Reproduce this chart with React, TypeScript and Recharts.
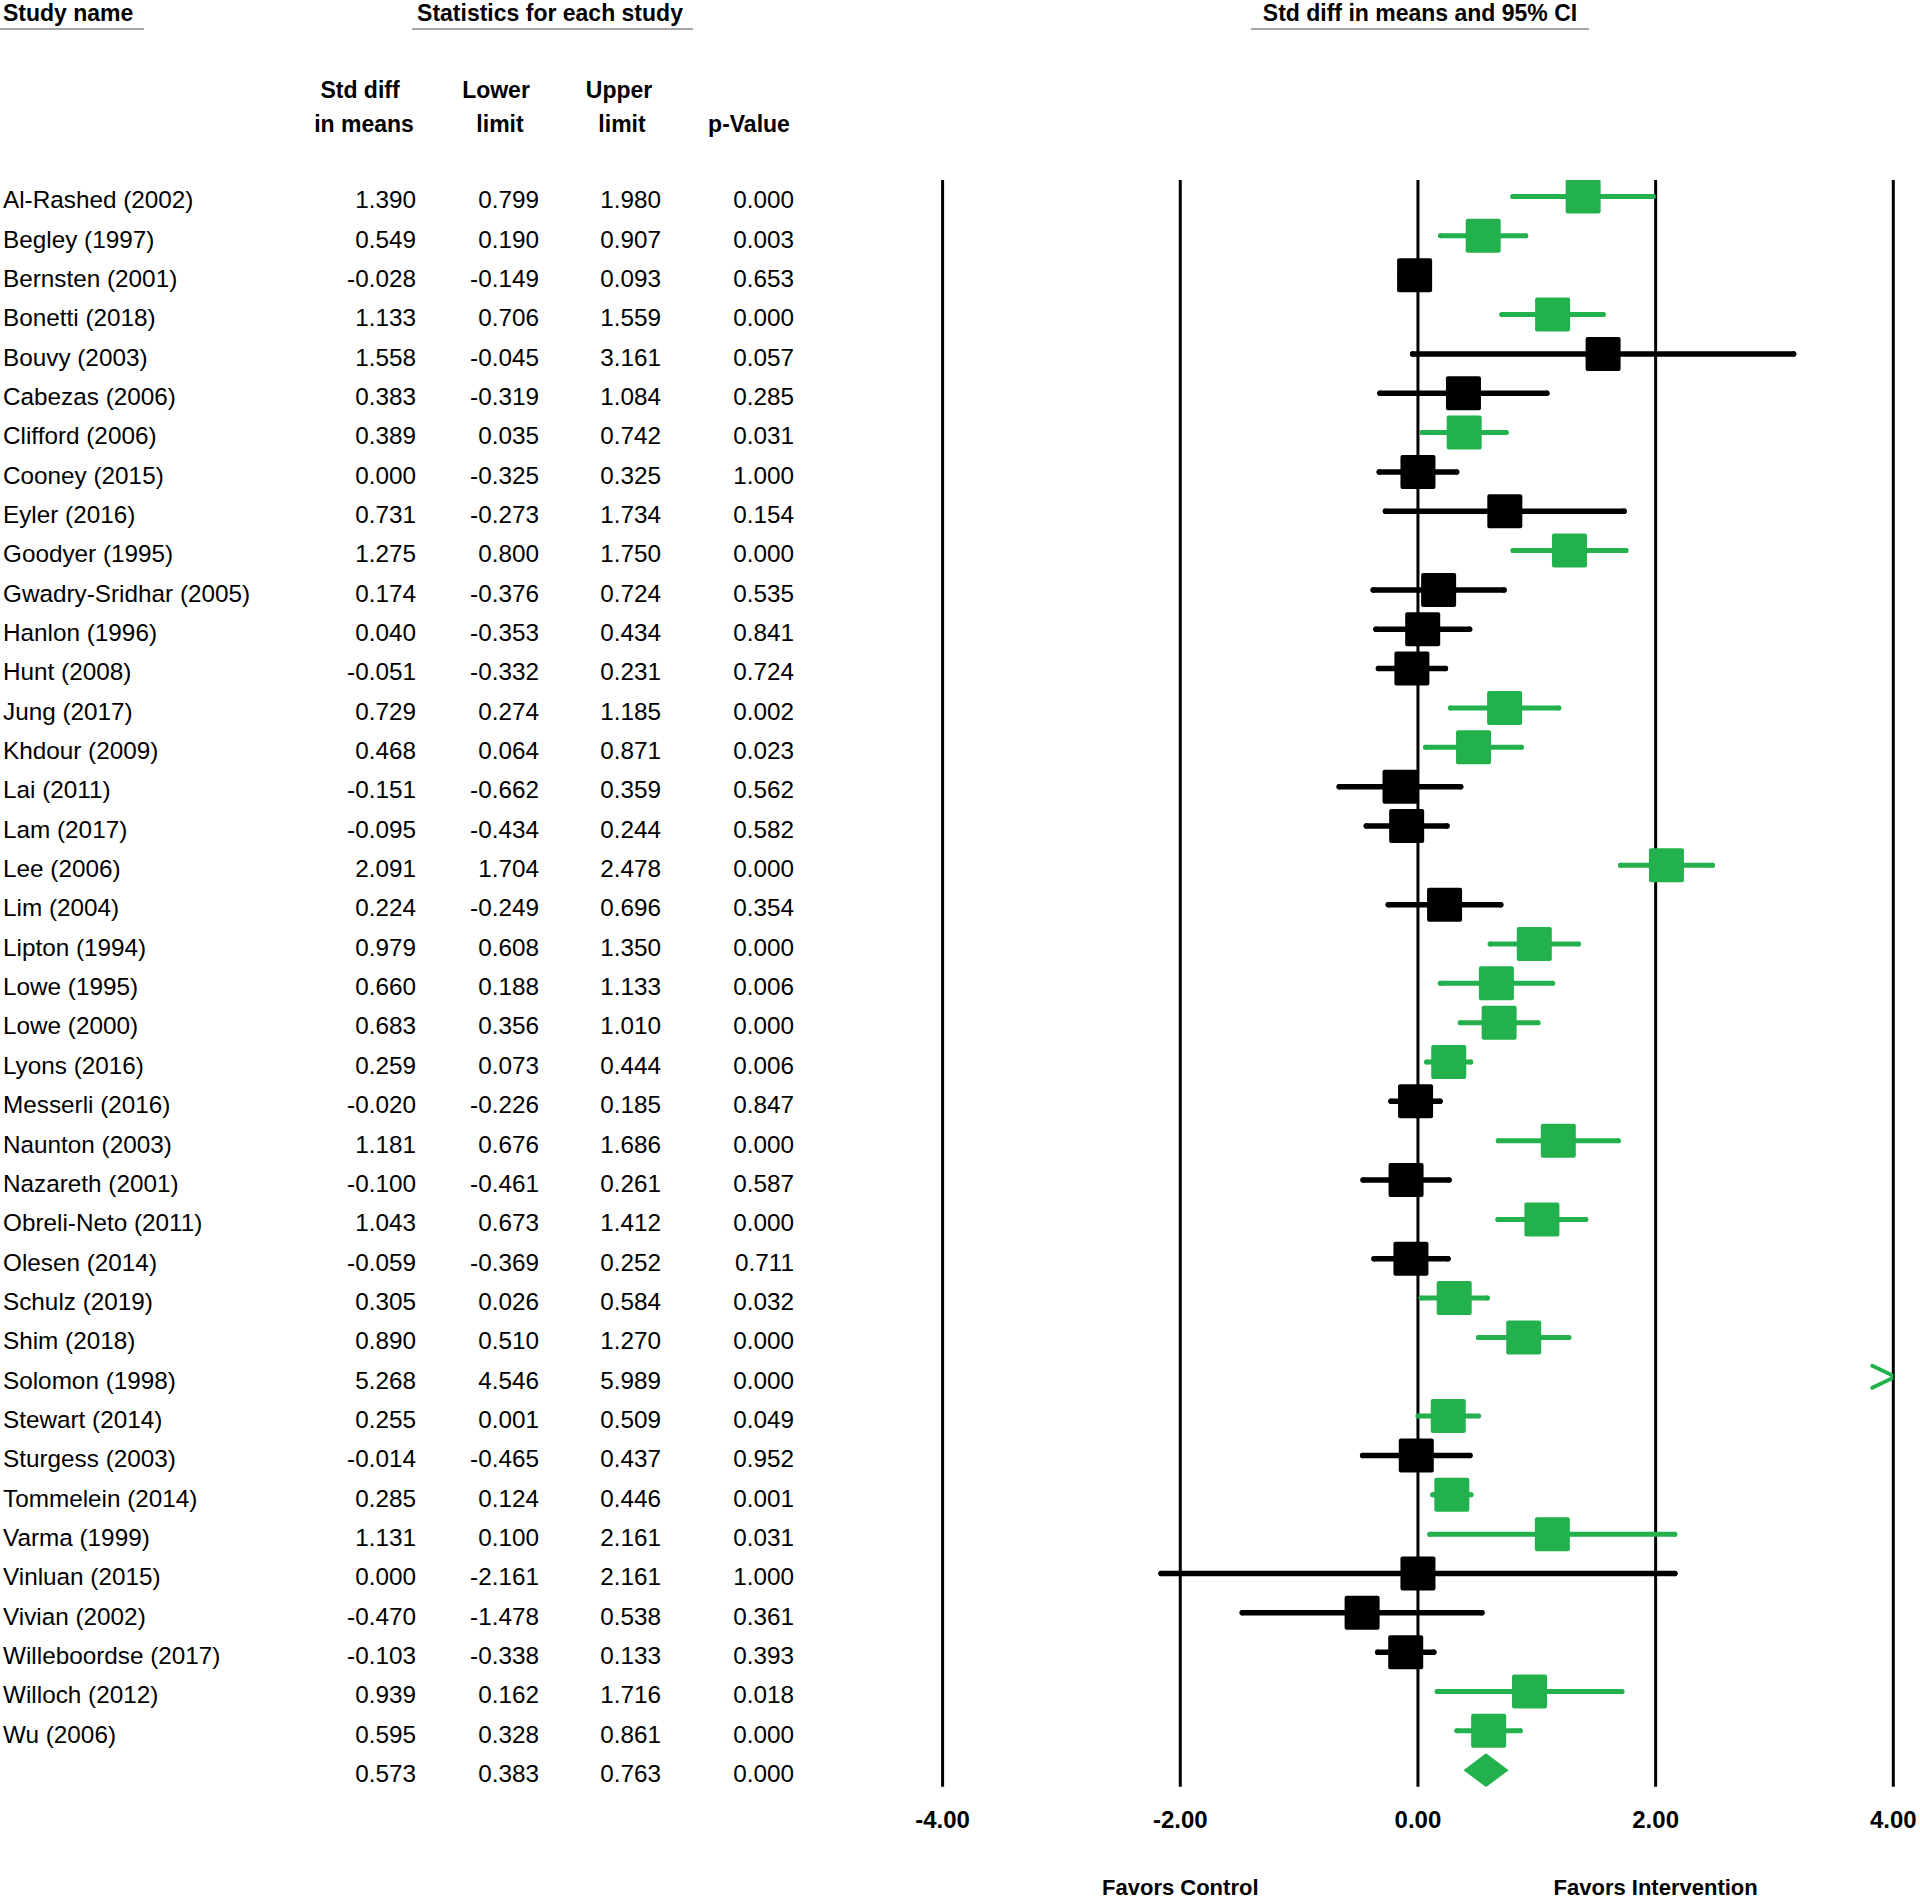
import { CartesianGrid, ErrorBar, Scatter, ScatterChart, XAxis, YAxis } from 'recharts';

// study table
const studyNames = [
  'Al-Rashed (2002)', 'Begley (1997)', 'Bernsten (2001)', 'Bonetti (2018)', 'Bouvy (2003)',
  'Cabezas (2006)', 'Clifford (2006)', 'Cooney (2015)', 'Eyler (2016)', 'Goodyer (1995)',
  'Gwadry-Sridhar (2005)', 'Hanlon (1996)', 'Hunt (2008)', 'Jung (2017)', 'Khdour (2009)',
  'Lai (2011)', 'Lam (2017)', 'Lee (2006)', 'Lim (2004)', 'Lipton (1994)',
  'Lowe (1995)', 'Lowe (2000)', 'Lyons (2016)', 'Messerli (2016)', 'Naunton (2003)',
  'Nazareth (2001)', 'Obreli-Neto (2011)', 'Olesen (2014)', 'Schulz (2019)', 'Shim (2018)',
  'Solomon (1998)', 'Stewart (2014)', 'Sturgess (2003)', 'Tommelein (2014)', 'Varma (1999)',
  'Vinluan (2015)', 'Vivian (2002)', 'Willeboordse (2017)', 'Willoch (2012)', 'Wu (2006)',
];
const stdDiff = [
  1.39, 0.549, -0.028, 1.133, 1.558, 0.383, 0.389, 0.0, 0.731, 1.275,
  0.174, 0.04, -0.051, 0.729, 0.468, -0.151, -0.095, 2.091, 0.224, 0.979,
  0.66, 0.683, 0.259, -0.02, 1.181, -0.1, 1.043, -0.059, 0.305, 0.89,
  5.268, 0.255, -0.014, 0.285, 1.131, 0.0, -0.47, -0.103, 0.939, 0.595,
];
const lowerLimit = [
  0.799, 0.19, -0.149, 0.706, -0.045, -0.319, 0.035, -0.325, -0.273, 0.8,
  -0.376, -0.353, -0.332, 0.274, 0.064, -0.662, -0.434, 1.704, -0.249, 0.608,
  0.188, 0.356, 0.073, -0.226, 0.676, -0.461, 0.673, -0.369, 0.026, 0.51,
  4.546, 0.001, -0.465, 0.124, 0.1, -2.161, -1.478, -0.338, 0.162, 0.328,
];
const upperLimit = [
  1.98, 0.907, 0.093, 1.559, 3.161, 1.084, 0.742, 0.325, 1.734, 1.75,
  0.724, 0.434, 0.231, 1.185, 0.871, 0.359, 0.244, 2.478, 0.696, 1.35,
  1.133, 1.01, 0.444, 0.185, 1.686, 0.261, 1.412, 0.252, 0.584, 1.27,
  5.989, 0.509, 0.437, 0.446, 2.161, 2.161, 0.538, 0.133, 1.716, 0.861,
];
const pValues = [
  0.0, 0.003, 0.653, 0.0, 0.057, 0.285, 0.031, 1.0, 0.154, 0.0,
  0.535, 0.841, 0.724, 0.002, 0.023, 0.562, 0.582, 0.0, 0.354, 0.0,
  0.006, 0.0, 0.006, 0.847, 0.0, 0.587, 0.0, 0.711, 0.032, 0.0,
  0.0, 0.049, 0.952, 0.001, 0.031, 1.0, 0.361, 0.393, 0.018, 0.0,
];
// pooled estimate: std diff, lower, upper, p
const pooled = [0.573, 0.383, 0.763, 0.0];

const xTicks = [-4, -2, 0, 2, 4];
const favorLabels: Record<string, string> = { '-2': 'Favors Control', '2': 'Favors Intervention' };

const GREEN = '#22b14c';
const FONT = '"Liberation Sans", Arial, sans-serif';
const X_MIN = -4;
const X_MAX = 4;
const DIAMOND_HALF = 0.43; // in rows
const COL_RIGHT = [416, 539, 661, 794];

const rows = studyNames.map((name, i) => ({
  row: i,
  name,
  x: stdDiff[i],
  p: pValues[i],
  err: [stdDiff[i] - lowerLimit[i], upperLimit[i] - stdDiff[i]],
}));
const inView = rows.filter((r) => r.x >= X_MIN && r.x <= X_MAX);
const sigRows = inView.filter((r) => r.p < 0.05);
const nsRows = inView.filter((r) => r.p >= 0.05);
const offRows = rows.filter((r) => r.x > X_MAX).map((r) => ({ ...r, x: X_MAX }));

const summaryRow = studyNames.length;
const diamond = [
  { x: pooled[1], row: summaryRow },
  { x: pooled[0], row: summaryRow - DIAMOND_HALF },
  { x: pooled[2], row: summaryRow },
  { x: pooled[0], row: summaryRow + DIAMOND_HALF },
];
const rowTicks = [...studyNames.map((_, i) => i), summaryRow];

const Square = (props: any) => (
  <rect x={props.cx - 17.5} y={props.cy - 17} width={35} height={34} rx={2} fill={props.fill} />
);

const Arrow = (props: any) => (
  <polyline
    points={`${props.cx - 21},${props.cy - 11} ${props.cx + 2},${props.cy} ${props.cx - 21},${props.cy + 11}`}
    fill="none"
    stroke={GREEN}
    strokeWidth={4}
    strokeLinecap="round"
    strokeLinejoin="round"
  />
);

const DiamondShape = (props: any) => (
  <polygon points={(props.points || []).map((p: any) => `${p.x},${p.y}`).join(' ')} fill={GREEN} />
);

const RowTick = (props: any) => {
  const i = props.payload.value;
  const stats = i < studyNames.length ? [stdDiff[i], lowerLimit[i], upperLimit[i], pValues[i]] : pooled;
  const by = props.y + 11.8;
  return (
    <g fontFamily={FONT} fontSize={24.3} fill="#000">
      {i < studyNames.length && (
        <text x={3} y={by}>
          {studyNames[i]}
        </text>
      )}
      {stats.map((v, k) => (
        <text key={k} x={COL_RIGHT[k]} y={by} textAnchor="end">
          {v.toFixed(3)}
        </text>
      ))}
    </g>
  );
};

const XTick = (props: any) => {
  const v = props.payload.value;
  const label = favorLabels[String(v)];
  return (
    <g fontFamily={FONT} fontWeight="bold" fill="#000">
      <text x={props.x} y={props.y + 41} textAnchor="middle" fontSize={24}>
        {v.toFixed(2)}
      </text>
      {label && (
        <text x={props.x} y={props.y + 108} textAnchor="middle" fontSize={22}>
          {label}
        </text>
      )}
    </g>
  );
};

function Headers() {
  const t = { fontFamily: FONT, fontWeight: 'bold' as const, fontSize: 23, fill: '#000' };
  return (
    <svg width={1920} height={140} style={{ position: 'absolute', left: 0, top: 0, pointerEvents: 'none' }}>
      <text x={3} y={21} {...t}>Study name</text>
      <text x={550} y={21} textAnchor="middle" {...t}>Statistics for each study</text>
      <text x={1420} y={21} textAnchor="middle" {...t}>Std diff in means and 95% CI</text>
      <line x1={0} x2={144} y1={29} y2={29} stroke="#a6a6a6" strokeWidth={2} />
      <line x1={412} x2={693} y1={29} y2={29} stroke="#a6a6a6" strokeWidth={2} />
      <line x1={1251} x2={1589} y1={29} y2={29} stroke="#a6a6a6" strokeWidth={2} />
      <text x={360} y={98} textAnchor="middle" {...t}>Std diff</text>
      <text x={364} y={132} textAnchor="middle" {...t}>in means</text>
      <text x={496} y={98} textAnchor="middle" {...t}>Lower</text>
      <text x={500} y={132} textAnchor="middle" {...t}>limit</text>
      <text x={619} y={98} textAnchor="middle" {...t}>Upper</text>
      <text x={622} y={132} textAnchor="middle" {...t}>limit</text>
      <text x={749} y={132} textAnchor="middle" {...t}>p-Value</text>
    </svg>
  );
}

export default function App() {
  return (
    <div style={{ position: 'relative', width: 1920, height: 1900, background: '#fff' }}>
      <style>{'html,body{margin:0;overflow:hidden;background:#fff}'}</style>
      <ScatterChart
        width={1920}
        height={1900}
        margin={{ top: 180, right: 26.7, bottom: 3.3, left: 941.6 }}
      >
        <CartesianGrid horizontal={false} stroke="#000" strokeWidth={3} />
        <XAxis
          type="number"
          dataKey="x"
          domain={[X_MIN, X_MAX]}
          ticks={xTicks}
          interval={0}
          allowDataOverflow
          axisLine={false}
          tickLine={false}
          tickSize={0}
          tickMargin={0}
          height={110}
          tick={XTick}
        />
        <YAxis
          type="number"
          dataKey="row"
          domain={[-0.42, 40.42]}
          reversed
          allowDataOverflow
          ticks={rowTicks}
          interval={0}
          axisLine={false}
          tickLine={false}
          width={1}
          tick={RowTick}
        />
        <Scatter data={nsRows} fill="#000" shape={Square} isAnimationActive={false}>
          <ErrorBar
            dataKey="err"
            direction="x"
            width={0}
            stroke="#000"
            strokeWidth={5.5}
            strokeLinecap="round"
            isAnimationActive={false}
          />
        </Scatter>
        <Scatter data={sigRows} fill={GREEN} shape={Square} isAnimationActive={false}>
          <ErrorBar
            dataKey="err"
            direction="x"
            width={0}
            stroke={GREEN}
            strokeWidth={5}
            strokeLinecap="round"
            isAnimationActive={false}
          />
        </Scatter>
        <Scatter data={offRows} fill={GREEN} shape={Arrow} isAnimationActive={false} />
        <Scatter
          data={diamond}
          fill={GREEN}
          shape={() => <g />}
          line={DiamondShape}
          lineType="joint"
          isAnimationActive={false}
        />
      </ScatterChart>
      <Headers />
    </div>
  );
}
